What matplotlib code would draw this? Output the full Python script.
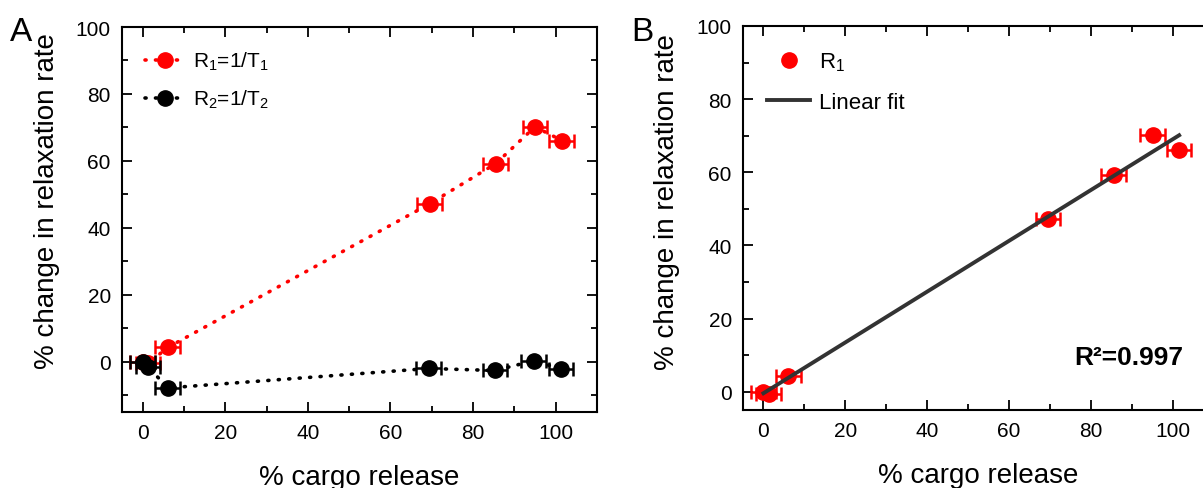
import numpy as np
import matplotlib.pyplot as plt
from matplotlib.ticker import MultipleLocator
from matplotlib.lines import Line2D

plt.rcParams['font.family'] = ['Liberation Sans', 'DejaVu Sans']
plt.rcParams['mathtext.fontset'] = 'custom'
plt.rcParams['mathtext.rm'] = 'Liberation Sans'
plt.rcParams['mathtext.it'] = 'Liberation Sans:italic'
plt.rcParams['mathtext.bf'] = 'Liberation Sans:bold'

# % cargo release vs % change in relaxation rate
release = [0.0, 1.3, 6.1, 69.5, 85.5, 95.0, 101.5]
r1_change = [0.0, -0.5, 4.3, 47.2, 59.2, 70.2, 66.1]
release_r2 = [0.0, 1.3, 6.1, 69.3, 85.3, 94.7, 101.3]
r2_change = [-0.2, -1.5, -7.8, -2.0, -2.6, 0.3, -2.1]
release_err = [3, 3, 3, 3, 3, 3, 3]

fig = plt.figure(figsize=(12.03, 4.89), dpi=100)
axA = fig.add_axes([0.1014, 0.1554, 0.3948, 0.7873])
axB = fig.add_axes([0.6176, 0.1595, 0.3915, 0.7853])

ms = 11
cap = 5
dots = (0, (0.3, 2.6))

def style(ax):
    ax.tick_params(which='both', direction='in', top=True, right=True, labelsize=15, width=1.3)
    ax.tick_params(which='major', length=7, pad=8)
    ax.tick_params(which='minor', length=4)
    ax.xaxis.set_major_locator(MultipleLocator(20))
    ax.xaxis.set_minor_locator(MultipleLocator(10))
    ax.yaxis.set_major_locator(MultipleLocator(20))
    ax.yaxis.set_minor_locator(MultipleLocator(10))
    for s in ax.spines.values():
        s.set_linewidth(1.5)
    ax.set_xlabel('% cargo release', fontsize=20)
    ax.set_ylabel('% change in relaxation rate', fontsize=20)
    ax.xaxis.set_label_coords(0.5, -0.135)

# Panel A
axA.plot(release, r1_change, linestyle=dots, color='red', lw=2.6, marker='o', ms=ms,
         dash_capstyle='round', label='R$_1$=1/T$_1$', zorder=3)
axA.errorbar(release, r1_change, xerr=release_err, fmt='none', ecolor='red',
             elinewidth=1.8, capsize=cap, capthick=1.8, zorder=3)
axA.plot(release_r2, r2_change, linestyle=dots, color='black', lw=2.6, marker='o', ms=ms,
         dash_capstyle='round', label='R$_2$=1/T$_2$', zorder=4)
axA.errorbar(release_r2, r2_change, xerr=release_err, fmt='none', ecolor='black',
             elinewidth=1.8, capsize=cap, capthick=1.8, zorder=4)
axA.set_xlim(-5, 110)
axA.set_ylim(-15, 100)
style(axA)
axA.yaxis.set_label_coords(-0.13, 0.55)
axA.legend(loc='upper left', frameon=False, fontsize=15, handlelength=1.9,
           handletextpad=0.4, borderaxespad=0.7, labelspacing=0.75)

# Panel B
slope, icpt = np.polyfit(release, r1_change, 1)
xfit = np.array([min(release), max(release)])
axB.errorbar(release, r1_change, xerr=release_err, fmt='o', color='red', ms=ms,
             elinewidth=1.8, capsize=cap, capthick=1.8, zorder=3)
axB.plot(xfit, slope * xfit + icpt, color='#333333', lw=2.8, zorder=4)
axB.set_xlim(-5, 110)
axB.set_ylim(-5, 100)
style(axB)
axB.yaxis.set_label_coords(-0.134, 0.545)
handles = [Line2D([], [], ls='none', marker='o', color='red', ms=ms),
           Line2D([], [], color='#333333', lw=2.8)]
axB.legend(handles, ['R$_1$', 'Linear fit'], loc='upper left', frameon=False,
           fontsize=16, handlelength=1.9, handletextpad=0.4, borderaxespad=0.7,
           labelspacing=0.85)
axB.text(89.3, 9.6, 'R²=0.997', ha='center', va='center',
         fontsize=19, fontweight='bold')

fig.text(0.008, 0.965, 'A', fontsize=24, va='top')
fig.text(0.525, 0.965, 'B', fontsize=24, va='top')

fig.savefig('out.png', dpi=100)
